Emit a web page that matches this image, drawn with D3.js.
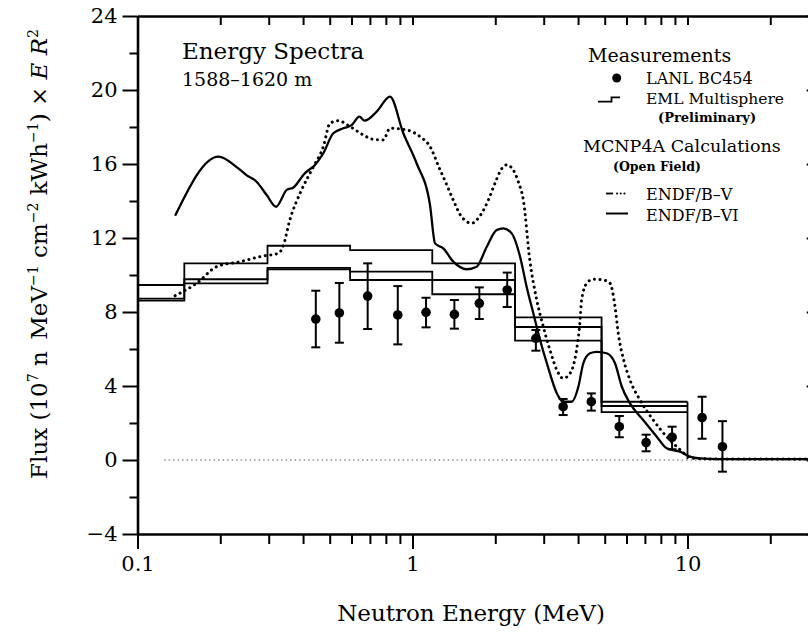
<!DOCTYPE html>
<html>
<head>
<meta charset="utf-8">
<script src="https://cdn.jsdelivr.net/npm/d3@7"></script>
<style>
  html, body { margin: 0; padding: 0; background: #fff; }
  svg { display: block; }
</style>
</head>
<body>
<script>
// ---- Data -------------------------------------------------------------
// LANL BC454 measurements (energy in MeV, flux and 1-sigma bounds)
const lanlE    = [0.445, 0.542, 0.687, 0.884, 1.12, 1.42, 1.75, 2.21, 2.81, 3.53, 4.47, 5.65, 7.07, 8.79, 11.3, 13.4];
const lanlFlux = [7.62, 7.95, 8.86, 7.84, 7.98, 7.87, 8.47, 9.19, 6.58, 2.88, 3.15, 1.80, 0.94, 1.23, 2.29, 0.72];
const lanlHi   = [9.15, 9.57, 10.63, 9.40, 8.77, 8.65, 9.33, 10.13, 7.03, 3.30, 3.60, 2.38, 1.37, 1.80, 3.42, 2.10];
const lanlLo   = [6.09, 6.34, 7.08, 6.25, 7.17, 7.10, 7.62, 8.27, 5.91, 2.43, 2.67, 1.23, 0.47, 0.58, 1.15, -0.63];

// EML multisphere unfolding: bin edges and upper / central / lower levels
const emlEdges = [0.1, 0.148, 0.297, 0.593, 1.18, 2.36, 4.87, 10];
const emlUpper = [9.46, 10.63, 11.58, 11.35, 10.63, 7.71, 3.15];
const emlMid   = [8.72, 9.77, 10.38, 10.18, 9.73, 7.19, 2.92];
const emlLower = [8.62, 9.55, 10.30, 9.73, 8.96, 6.45, 2.59];

// MCNP4A calculation with ENDF/B-VI cross sections
const endf6E = [0.137, 0.197, 0.230, 0.249, 0.271, 0.295, 0.319, 0.349, 0.368, 0.406, 0.442, 0.474, 0.515, 0.560,
  0.601, 0.641, 0.670, 0.741, 0.828, 0.926, 1.035, 1.158, 1.208, 1.294, 1.407, 1.574, 1.712, 1.862, 2.024, 2.14,
  2.295, 2.46, 2.6, 2.75, 2.91, 3.08, 3.35, 3.53, 3.79, 4.01, 4.18, 4.42, 4.68, 5.08, 5.45, 5.77, 6.18, 6.9, 7.73,
  8.4, 9.39, 10.2, 11.1, 13, 30];
const endf6Flux = [13.2, 16.4, 15.82, 15.4, 15.04, 14.32, 13.69, 14.6, 14.72, 15.5, 15.95, 16.58, 17.66, 17.93,
  18.1, 18.56, 18.34, 18.83, 19.64, 17.66, 16.04, 13.78, 11.71, 11.44, 10.72, 10.31, 10.45, 11.53, 12.43, 12.52,
  12.25, 11.0, 9.37, 7.93, 6.49, 5.23, 3.6, 3.15, 3.15, 3.96, 5.23, 5.77, 5.85, 5.77, 5.23, 3.96, 3.06, 2.16, 1.26,
  0.63, 0.45, 0.18, 0.09, 0.05, 0.05];

// MCNP4A calculation with ENDF/B-V cross sections
const endf5E = [0.137, 0.164, 0.194, 0.236, 0.287, 0.325, 0.338, 0.358, 0.395, 0.436, 0.474, 0.501, 0.537, 0.593,
  0.662, 0.72, 0.783, 0.828, 0.953, 1.065, 1.158, 1.25, 1.33, 1.407, 1.5, 1.64, 1.76, 1.887, 2.0, 2.1, 2.2, 2.32,
  2.43, 2.53, 2.67, 2.83, 2.99, 3.16, 3.35, 3.53, 3.74, 3.95, 4.06, 4.12, 4.3, 4.54, 4.94, 5.23, 5.45, 5.6, 5.86,
  6.18, 6.72, 7.51, 8.4, 9.14, 9.9, 10.5, 13, 30];
const endf5Flux = [8.88, 9.55, 10.45, 10.72, 11.03, 11.17, 11.53, 12.97, 14.6, 15.85, 16.94, 18.2, 18.34, 18.02,
  17.57, 17.33, 17.3, 17.93, 17.84, 17.48, 16.94, 15.8, 14.9, 14.05, 13.2, 12.8, 13.2, 14.05, 15.0, 15.7, 15.95, 15.7,
  15.0, 14.05, 10.81, 8.65, 7.2, 5.95, 4.86, 4.41, 4.68, 5.95, 7.39, 8.65, 9.55, 9.77, 9.73, 9.55, 8.29, 6.85, 5.41,
  4.32, 3.24, 2.16, 1.26, 0.72, 0.27, 0.09, 0.05, 0.05];

// Axis ticks
const yMajor = [-4, 0, 4, 8, 12, 16, 20, 24];
const yMinor = [-2, 2, 6, 10, 14, 18, 22];
const xMajor = [0.1, 1, 10];
const xMinor = [0.2, 0.3, 0.4, 0.5, 0.6, 0.7, 0.8, 0.9, 2, 3, 4, 5, 6, 7, 8, 9, 20, 30];
const xLabels = {0.1: "0.1", 1: "1", 10: "10"};

// ---- Layout -----------------------------------------------------------
const W = 808, H = 635;
const FONT = "'DejaVu Serif', 'Liberation Serif', serif";
const plotLeft = 137.5, plotTop = 16, plotBottom = 534;

const x = d3.scaleLog().domain([0.1, 30]).range([plotLeft, plotLeft + 275 * Math.log10(300)]);
const y = d3.scaleLinear().domain([-4, 24]).range([plotBottom, plotTop]);
const plotRight = x.range()[1];

const svg = d3.select("body").append("svg")
  .attr("width", W).attr("height", H)
  .attr("font-family", FONT);

// ---- Axes -------------------------------------------------------------
function styleAxis(g, width) {
  g.attr("font-family", FONT);
  g.select(".domain").attr("stroke-width", width);
  g.selectAll(".tick line").attr("stroke-width", 2);
}
const fmtY = d => d < 0 ? "\u2212" + Math.abs(d) : String(d);

svg.append("g").attr("transform", `translate(${plotLeft},0)`)
  .call(d3.axisLeft(y).tickValues(yMajor).tickSize(15).tickSizeOuter(0).tickPadding(5).tickFormat(fmtY))
  .call(g => styleAxis(g, 2.6))
  .call(g => g.selectAll("text").attr("font-size", 21).attr("fill", "#000"));
svg.append("g").attr("transform", `translate(${plotLeft},0)`)
  .call(d3.axisLeft(y).tickValues(yMinor).tickSize(8).tickSizeOuter(0).tickFormat(""))
  .call(g => { g.select(".domain").remove(); g.selectAll(".tick line").attr("stroke-width", 2); });

svg.append("g").attr("transform", `translate(${plotRight},0)`)
  .call(d3.axisRight(y).tickValues(yMajor).tickSize(-12).tickSizeOuter(0).tickFormat(""))
  .call(g => styleAxis(g, 2.6));

svg.append("g").attr("transform", `translate(0,${plotBottom})`)
  .call(d3.axisBottom(x).tickValues(xMajor).tickSize(15).tickSizeOuter(0).tickPadding(7).tickFormat(d => xLabels[d]))
  .call(g => styleAxis(g, 2.6))
  .call(g => g.selectAll("text").attr("font-size", 21).attr("fill", "#000"));
svg.append("g").attr("transform", `translate(0,${plotBottom})`)
  .call(d3.axisBottom(x).tickValues(xMinor).tickSize(10).tickSizeOuter(0).tickFormat(""))
  .call(g => { g.select(".domain").remove(); g.selectAll(".tick line").attr("stroke-width", 2); });

svg.append("g").attr("transform", `translate(0,${plotTop})`)
  .call(d3.axisTop(x).tickValues(xMajor.concat(xMinor)).tickSize(-9).tickSizeOuter(0).tickFormat(""))
  .call(g => styleAxis(g, 2.6));

// Axis titles
svg.append("text")
  .attr("x", 471).attr("y", 621)
  .attr("text-anchor", "middle").attr("font-size", 23)
  .text("Neutron Energy (MeV)");

const yt = svg.append("text")
  .attr("transform", "translate(47,254) rotate(-90)")
  .attr("text-anchor", "middle").attr("font-size", 23);
const supDy = -9, supSize = 14;
function seg(txt, opts = {}) {
  const t = yt.append("tspan").text(txt);
  if (opts.sup) t.attr("dy", supDy).attr("font-size", supSize);
  if (opts.back) t.attr("dy", -supDy);
  if (opts.italic) t.attr("font-style", "italic");
  return t;
}
seg("Flux (10");
seg("7", {sup: true});
seg(" n\u2002MeV", {back: true});
seg("\u22121", {sup: true});
seg(" cm", {back: true});
seg("\u22122", {sup: true});
seg(" kWh", {back: true});
seg("\u22121", {sup: true});
seg(") \u00d7 ", {back: true});
seg("E", {italic: true});
seg(" ");
seg("R", {italic: true});
seg("2", {sup: true});

// Zero reference line
svg.append("line")
  .attr("x1", x(0.125)).attr("x2", plotRight)
  .attr("y1", y(0)).attr("y2", y(0))
  .attr("stroke", "#555").attr("stroke-width", 1)
  .attr("stroke-dasharray", "1.5,3");

// ---- EML multisphere histogram ----------------------------------------
const stepLine = d3.line().x(d => x(d[0])).y(d => y(d[1])).curve(d3.curveStepAfter);
function stepData(vals) {
  const pts = vals.map((v, i) => [emlEdges[i], v]);
  pts.push([emlEdges[emlEdges.length - 1], vals[vals.length - 1]]);
  return pts;
}
[emlUpper, emlMid, emlLower].forEach(vals => {
  svg.append("path")
    .attr("d", stepLine(stepData(vals)))
    .attr("fill", "none").attr("stroke", "#000").attr("stroke-width", 1.8);
});
// closing edge of the last bin down to zero
svg.append("line")
  .attr("x1", x(10)).attr("x2", x(10))
  .attr("y1", y(emlUpper[emlUpper.length - 1])).attr("y2", y(0.05))
  .attr("stroke", "#000").attr("stroke-width", 1.8);

// ---- MCNP4A curves ----------------------------------------------------
const curve = d3.line().x(d => x(d[0])).y(d => y(d[1])).curve(d3.curveMonotoneX);

svg.append("path")
  .attr("d", curve(endf5E.map((e, i) => [e, endf5Flux[i]])))
  .attr("fill", "none").attr("stroke", "#000").attr("stroke-width", 3)
  .attr("stroke-linecap", "round").attr("stroke-dasharray", "0.1,5.5");

svg.append("path")
  .attr("d", curve(endf6E.map((e, i) => [e, endf6Flux[i]])))
  .attr("fill", "none").attr("stroke", "#000").attr("stroke-width", 2.3)
  .attr("stroke-linejoin", "round");

// ---- LANL BC454 points with error bars --------------------------------
const pts = svg.append("g");
lanlE.forEach((e, i) => {
  const cx = x(e);
  pts.append("line").attr("x1", cx).attr("x2", cx)
    .attr("y1", y(lanlLo[i])).attr("y2", y(lanlHi[i]))
    .attr("stroke", "#000").attr("stroke-width", 2);
  [lanlLo[i], lanlHi[i]].forEach(v => {
    pts.append("line").attr("x1", cx - 4.5).attr("x2", cx + 4.5)
      .attr("y1", y(v)).attr("y2", y(v))
      .attr("stroke", "#000").attr("stroke-width", 2);
  });
  pts.append("circle").attr("cx", cx).attr("cy", y(lanlFlux[i])).attr("r", 4.8).attr("fill", "#000");
});

// ---- Annotations ------------------------------------------------------
svg.append("text").attr("x", 182).attr("y", 59).attr("font-size", 23).text("Energy Spectra");
svg.append("text").attr("x", 182).attr("y", 86).attr("font-size", 19).text("1588\u20131620 m");

// ---- Legend -----------------------------------------------------------
const lg = svg.append("g");
lg.append("text").attr("x", 588).attr("y", 62).attr("font-size", 19).text("Measurements");
lg.append("circle").attr("cx", 616.7).attr("cy", 78).attr("r", 4.5).attr("fill", "#000");
lg.append("text").attr("x", 646).attr("y", 84).attr("font-size", 16).text("LANL BC454");
lg.append("path").attr("d", "M598,101.7 H611.5 V97.3 H620")
  .attr("fill", "none").attr("stroke", "#000").attr("stroke-width", 1.8);
lg.append("text").attr("x", 646).attr("y", 103.5).attr("font-size", 15.5).text("EML Multisphere");
lg.append("text").attr("x", 658).attr("y", 121.5).attr("font-size", 13).attr("font-weight", "bold").text("(Preliminary)");
lg.append("text").attr("x", 583).attr("y", 152).attr("font-size", 17.5).text("MCNP4A Calculations");
lg.append("text").attr("x", 613).attr("y", 171).attr("font-size", 12.5).attr("font-weight", "bold").text("(Open Field)");
lg.append("line").attr("x1", 606).attr("x2", 613).attr("y1", 193.5).attr("y2", 193.5)
  .attr("stroke", "#000").attr("stroke-width", 1.8);
lg.append("line").attr("x1", 617).attr("x2", 628).attr("y1", 193.5).attr("y2", 193.5)
  .attr("stroke", "#000").attr("stroke-width", 2).attr("stroke-linecap", "round").attr("stroke-dasharray", "0.1,3.6");
lg.append("text").attr("x", 646).attr("y", 200).attr("font-size", 16).text("ENDF/B\u2013V");
lg.append("line").attr("x1", 606).attr("x2", 628).attr("y1", 213.5).attr("y2", 213.5)
  .attr("stroke", "#000").attr("stroke-width", 2);
lg.append("text").attr("x", 646).attr("y", 221).attr("font-size", 16).text("ENDF/B\u2013VI");
</script>
</body>
</html>
